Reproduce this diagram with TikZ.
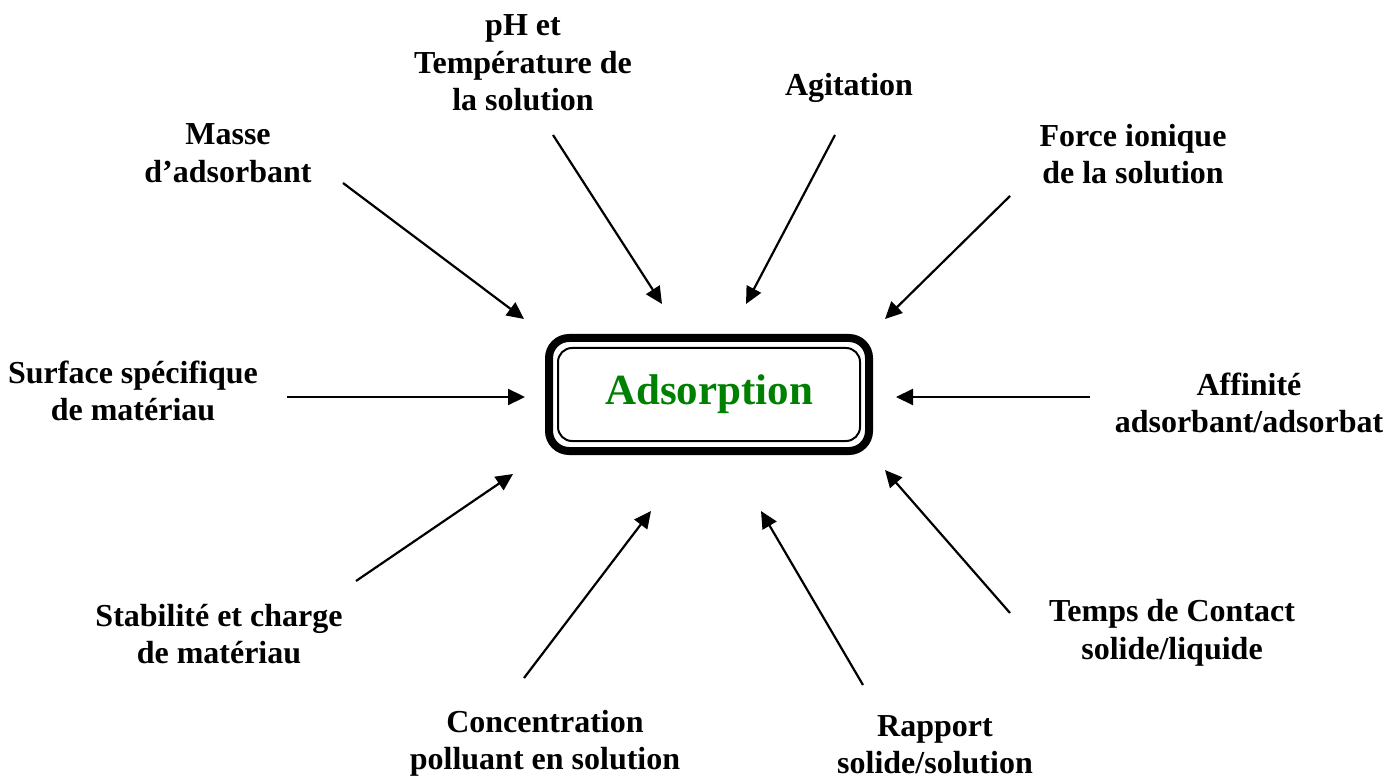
\documentclass[tikz,border=0pt]{standalone}
\usepackage{fontspec}
\setmainfont{Liberation Serif}
\usetikzlibrary{arrows.meta, positioning}
\definecolor{adsgreen}{RGB}{0,128,0}

\tikzset{
  factor/.style={align=center, font=\bfseries\fontsize{16}{18.7}\selectfont},
  central/.style={draw, line width=1pt, rounded corners=7pt,
    minimum width=151pt, minimum height=46.5pt,
    text=adsgreen, font=\bfseries\fontsize{21.5}{24}\selectfont},
  influence/.style={line width=1.1pt, -{Triangle[length=8.5pt, width=8pt]}}
}

\begin{document}
\begin{tikzpicture}[x=0.5pt, y=-0.5pt]
    \useasboundingbox (0,0) rectangle (1396,780);
    % central box
    \node[central] (ads) at (709,394.5) {Adsorption};
    \draw[line width=4pt, rounded corners=10pt]
      ([shift={(-8,9)}]ads.south west) rectangle ([shift={(8,-9)}]ads.north east);
    % factors
    \node[factor] (masse) at (228,153) {Masse\\d'adsorbant};
    \node[factor] (ph) at (523,63) {pH et\\Température de\\la solution};
    \node[factor] (agit) at (849,88) {Agitation};
    \node[factor] (force) at (1133,154) {Force ionique\\de la solution};
    \node[factor] (surf) at (133,391) {Surface spécifique\\de matériau};
    \node[factor] (affin) at (1249,403) {Affinité\\adsorbant/adsorbat};
    \node[factor] (stab) at (219,634) {Stabilité et charge\\de matériau};
    \node[factor] (conc) at (545,743) {Concentration\\polluant en solution};
    \node[factor] (rapp) at (935,745) {Rapport\\solide/solution};
    \node[factor] (temps) at (1172,633) {Temps de Contact\\solide/liquide};
    % arrow ends
    \coordinate (masse-s) at (343,183);  \coordinate (masse-e) at (524,319);
    \coordinate (ph-s) at (553,135);     \coordinate (ph-e) at (662,304);
    \coordinate (agit-s) at (835,135);   \coordinate (agit-e) at (746,304);
    \coordinate (force-s) at (1010,196); \coordinate (force-e) at (885,319);
    \coordinate (surf-s) at (287,397);   \coordinate (surf-e) at (525,397);
    \coordinate (affin-s) at (1090,397); \coordinate (affin-e) at (896,397);
    \coordinate (stab-s) at (356,581);   \coordinate (stab-e) at (513,474);
    \coordinate (conc-s) at (524,678);   \coordinate (conc-e) at (651,511);
    \coordinate (rapp-s) at (863,685);   \coordinate (rapp-e) at (761,511);
    \coordinate (temps-s) at (1010,613); \coordinate (temps-e) at (885,470);
    \foreach \f in {masse, ph, agit, force, surf, affin, stab, conc, rapp, temps}
      \draw[influence] (\f-s) -- (\f-e);
\end{tikzpicture}
\end{document}
